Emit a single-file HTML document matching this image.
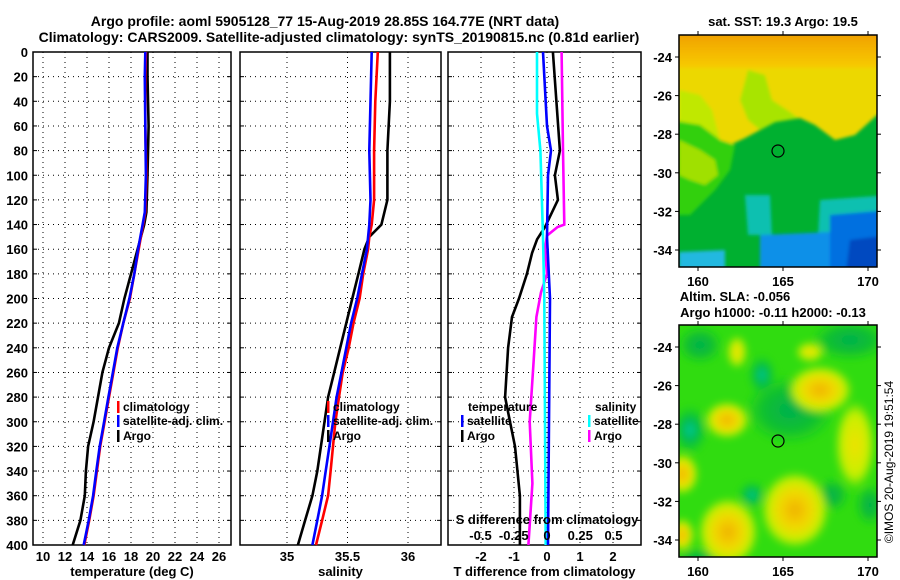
<!DOCTYPE html>
<html><head><meta charset="utf-8">
<style>
html,body{margin:0;padding:0;background:#fff;}
svg{display:block;font-family:"Liberation Sans",Arial,sans-serif;font-weight:bold;}
</style></head>
<body>
<svg id="chart" width="900" height="580" viewBox="0 0 900 580" xmlns="http://www.w3.org/2000/svg">
<defs>
<filter id="blur4" x="-20%" y="-20%" width="140%" height="140%"><feGaussianBlur stdDeviation="4"/></filter>
<filter id="blur2"><feGaussianBlur stdDeviation="1.5"/></filter>
<clipPath id="clipMap1"><rect x="679" y="35" width="198" height="232"/></clipPath>
<clipPath id="clipMap2"><rect x="679" y="325" width="198" height="232"/></clipPath>
<linearGradient id="topBand" x1="0" y1="0" x2="0" y2="1"><stop offset="0" stop-color="#f09a00"/><stop offset="0.5" stop-color="#f4b400"/><stop offset="1" stop-color="#f6cc00"/></linearGradient>
<radialGradient id="gY"><stop offset="0" stop-color="#f0b000"/><stop offset="0.45" stop-color="#f2d800"/><stop offset="0.8" stop-color="#c8f000"/><stop offset="1" stop-color="#c8f000" stop-opacity="0"/></radialGradient>
<radialGradient id="gYl"><stop offset="0" stop-color="#f0e000"/><stop offset="0.7" stop-color="#c8f000"/><stop offset="1" stop-color="#c8f000" stop-opacity="0"/></radialGradient>
<radialGradient id="gG"><stop offset="0" stop-color="#00b050"/><stop offset="0.6" stop-color="#10c030"/><stop offset="1" stop-color="#10c030" stop-opacity="0"/></radialGradient>
<radialGradient id="gT"><stop offset="0" stop-color="#00d0a0"/><stop offset="0.4" stop-color="#00b858"/><stop offset="1" stop-color="#10c030" stop-opacity="0"/></radialGradient>
</defs>

<text x="325" y="26" font-size="14" text-anchor="middle">Argo profile: aoml 5905128_77 15-Aug-2019 28.85S 164.77E (NRT data)</text>
<text x="339" y="42" font-size="14" text-anchor="middle">Climatology: CARS2009. Satellite-adjusted climatology: synTS_20190815.nc (0.81d earlier)</text>

<g id="panels"></g>

<!-- Map 1: SST -->
<g>
<text x="783" y="26" font-size="13" text-anchor="middle">sat. SST: 19.3 Argo: 19.5</text>
<g clip-path="url(#clipMap1)">
<rect x="679" y="35" width="198" height="232" fill="#00b030"/>
<g filter="url(#blur2)">
<polygon fill="#ecd800" points="670,30 890,30 890,115 877,115 855,135 835,140 815,125 800,118 775,122 760,130 745,138 730,145 720,140 700,125 670,120"/>
<rect x="670" y="30" width="220" height="38" fill="url(#topBand)"/>
<polygon fill="#a8e400" points="748,70 765,75 772,100 790,112 798,118 775,122 760,130 748,120 740,100"/>
<polygon fill="#c0e800" points="679,90 700,95 712,110 720,140 700,125 679,122"/>
<polygon fill="#30d010" points="670,120 700,125 720,140 735,145 730,170 715,190 700,205 690,215 670,215"/>
<polygon fill="#a0e000" points="679,140 700,150 715,160 718,175 705,185 690,180 679,175"/>
<polygon fill="#10c0b0" points="745,195 770,195 772,235 748,235"/>
<polygon fill="#10c0b0" points="820,200 890,195 890,240 818,235"/>
<polygon fill="#0890e8" points="760,235 830,232 830,280 760,280"/>
<polygon fill="#0070e0" points="830,215 890,210 890,280 830,280"/>
<polygon fill="#0048c0" points="850,240 890,235 890,280 845,280"/>
<polygon fill="#20b8e0" points="679,252 725,250 725,280 679,280"/>
</g>
</g>
<rect x="679" y="35" width="198" height="232" fill="none" stroke="#000" stroke-width="1.5"/>
<circle cx="778" cy="151" r="6" fill="none" stroke="#000" stroke-width="1.2"/>
<g id="map1axes"></g>
</g>

<!-- Map 2: SLA -->
<g>
<text x="735" y="301" font-size="13" text-anchor="middle">Altim. SLA: -0.056</text>
<text x="773" y="317" font-size="13" text-anchor="middle">Argo h1000: -0.11 h2000: -0.13</text>
<g clip-path="url(#clipMap2)">
<rect x="679" y="325" width="198" height="232" fill="#30dc10"/>
<g filter="url(#blur4)">
<ellipse cx="790" cy="410" rx="45" ry="34" fill="url(#gG)"/>
<ellipse cx="850" cy="340" rx="38" ry="20" fill="url(#gG)"/>
<ellipse cx="700" cy="345" rx="22" ry="18" fill="url(#gG)"/>
<ellipse cx="690" cy="430" rx="18" ry="25" fill="url(#gT)"/>
<ellipse cx="762" cy="375" rx="14" ry="20" fill="url(#gT)"/>
<ellipse cx="752" cy="495" rx="14" ry="14" fill="url(#gT)"/>
<ellipse cx="832" cy="495" rx="16" ry="16" fill="url(#gG)"/>
<ellipse cx="700" cy="560" rx="25" ry="12" fill="url(#gG)"/>
<ellipse cx="870" cy="505" rx="14" ry="20" fill="url(#gG)"/>
<ellipse cx="820" cy="390" rx="32" ry="24" fill="url(#gY)"/>
<ellipse cx="727" cy="420" rx="22" ry="18" fill="url(#gY)"/>
<ellipse cx="682" cy="474" rx="16" ry="20" fill="url(#gY)"/>
<ellipse cx="795" cy="510" rx="34" ry="38" fill="url(#gY)"/>
<ellipse cx="728" cy="532" rx="30" ry="34" fill="url(#gY)"/>
<ellipse cx="682" cy="535" rx="12" ry="16" fill="url(#gY)"/>
<ellipse cx="855" cy="445" rx="20" ry="44" fill="url(#gYl)"/>
<ellipse cx="737" cy="352" rx="10" ry="16" fill="url(#gYl)"/>
<ellipse cx="810" cy="352" rx="14" ry="10" fill="url(#gYl)"/>
</g>
</g>
<rect x="679" y="325" width="198" height="232" fill="none" stroke="#000" stroke-width="1.5"/>
<circle cx="778" cy="441" r="6" fill="none" stroke="#000" stroke-width="1.2"/>
<g id="map2axes"></g>
</g>
<text transform="translate(893,462) rotate(-90)" font-size="12" font-weight="normal" text-anchor="middle">©IMOS 20-Aug-2019 19:51:54</text>
</svg>

<script>
// ---------- data ----------
const depthTicks = [0,20,40,60,80,100,120,140,160,180,200,220,240,260,280,300,320,340,360,380,400];
const tempTicks = [10,12,14,16,18,20,22,24,26];
const salTicks = [35,35.5,36];
const salTickLabels = ["35","35.5","36"];
const tdiffTicks = [-2,-1,0,1,2];
const sdiffTicks = [-0.5,-0.25,0,0.25,0.5];
const sdiffTickLabels = ["-0.5","-0.25","0","0.25","0.5"];

const depthT = [0,20,60,100,130,140,160,180,200,220,240,260,280,300,320,340,360,380,400];
const tempArgo = [19.5,19.5,19.6,19.5,19.4,19.2,18.6,18.0,17.4,16.9,16.0,15.4,15.0,14.6,14.1,13.9,13.8,13.4,12.7];
const tempClim = [19.35,19.3,19.3,19.4,19.3,19.1,18.7,18.3,17.9,17.3,16.8,16.4,16.0,15.6,15.2,14.9,14.6,14.2,13.75];
const tempSat  = [19.3,19.25,19.3,19.35,19.25,19.05,18.65,18.3,17.85,17.3,16.75,16.35,15.95,15.55,15.15,14.85,14.55,14.15,13.7];

const depthS = [0,40,80,120,140,150,160,180,200,220,240,260,280,300,320,340,360,380,400];
const salArgo = [35.85,35.85,35.83,35.83,35.78,35.68,35.64,35.59,35.54,35.49,35.44,35.39,35.34,35.31,35.28,35.25,35.21,35.15,35.09];
const salClim = [35.75,35.73,35.72,35.72,35.70,35.68,35.67,35.63,35.60,35.55,35.51,35.46,35.43,35.40,35.38,35.36,35.34,35.29,35.24];
const salSat  = [35.70,35.69,35.68,35.69,35.68,35.67,35.66,35.62,35.58,35.53,35.49,35.45,35.41,35.38,35.35,35.32,35.29,35.25,35.21];

const depthTdA = [0,80,100,120,142,152,163,180,200,215,240,280,300,320,360,400];
const tdiffArgo = [0.18,0.39,0.24,0.33,-0.06,-0.30,-0.45,-0.61,-0.85,-1.06,-1.18,-1.27,-1.12,-0.97,-0.82,-0.82];
const depthTdS = [0,60,80,100,150,200,400];
const tdiffSat = [-0.12,0,0.12,0.03,0,0.09,0.03];
const depthSdA = [0,80,140,142,149,160,180,195,215,250,300,350,400];
const sdiffArgo = [0.11,0.12,0.13,0.08,0,-0.015,0,-0.045,-0.08,-0.10,-0.13,-0.11,-0.14];
const depthSdS = [0,50,80,150,200,400];
const sdiffSat = [-0.075,-0.075,-0.05,-0.03,-0.02,-0.01];

const mapLonTicks = [160,165,170];
const mapLatTicks = [-24,-26,-28,-30,-32,-34];

// ---------- axes ----------
const Y0=52, Y1=545;
const yD = d => Y0 + d*(Y1-Y0)/400;
const xT = t => 43 + (t-10)*11;
const xS = s => 287 + (s-35)*121;
const xTd = t => 547 + t*33;
const xSd = s => 547 + s*133;
const mapLon = (lon) => 698 + (lon-160)*17;
const mapLat1 = (lat) => 57 + (-24-lat)*19.3;
const mapLat2 = (lat) => 347 + (-24-lat)*19.3;

const NS="http://www.w3.org/2000/svg";
const root=document.getElementById('panels');
function mk(tag,attrs,parent){const e=document.createElementNS(NS,tag);for(const k in attrs)e.setAttribute(k,attrs[k]);(parent||root).appendChild(e);return e;}

function panel(name,x0,x1,xticks,xfn,xlabels,xtitle){
  const g=mk('g',{});
  
  
  depthTicks.forEach(d=>{
    const l=mk('line',{x1:x0,x2:x1,y1:yD(d),y2:yD(d),stroke:'#000','stroke-width':1,'stroke-dasharray':'1,4'},g);
    
    
    mk('line',{x1:x0,x2:x0+4,y1:yD(d),y2:yD(d),stroke:'#000'},g);
    mk('line',{x1:x1-4,x2:x1,y1:yD(d),y2:yD(d),stroke:'#000'},g);
  });
  xticks.forEach((v,i)=>{
    const x=xfn(v);
    const l=mk('line',{x1:x,x2:x,y1:Y0,y2:Y1,stroke:'#000','stroke-width':1,'stroke-dasharray':'1,4'},g);
    
    
    if(xlabels){
      const t=mk('text',{x:x,y:561,'font-size':13,'text-anchor':'middle'},g);
      t.textContent=xlabels[i];
      
      
    }
  });
  const r=mk('rect',{x:x0,y:Y0,width:x1-x0,height:Y1-Y0,fill:'none',stroke:'#000','stroke-width':1.5},g);
  
  
  const tt=mk('text',{x:(x0+x1)/2,y:576,'font-size':13,'text-anchor':'middle'},g);
  tt.textContent=xtitle;
  
  
  return g;
}
function series(g,name,depths,vals,xfn,color){
  const pts=depths.map((d,i)=>xfn(vals[i]).toFixed(1)+','+yD(d).toFixed(1)).join(' ');
  const p=mk('polyline',{points:pts,fill:'none',stroke:color,'stroke-width':2.6,'stroke-linejoin':'miter'},g);
  
  
}
function legendEntry(g,name,x,y,color,label){
  const m=mk('rect',{x:x,y:y-10,width:2.5,height:12,fill:color},g);
  const t=mk('text',{x:x+6,y:y,'font-size':12},g);
  t.textContent=label;
  
  
  
  
}

// depth labels
depthTicks.forEach(d=>{
  const t=mk('text',{x:28,y:yD(d)+5,'font-size':13,'text-anchor':'end'});
  t.textContent=String(d);
  
  
});

// panel 1
const g1=panel('temperature-panel',33,231,tempTicks,xT,tempTicks.map(String),'temperature (deg C)');
series(g1,'temp-argo-line',depthT,tempArgo,xT,'#000');
series(g1,'temp-climatology-line',depthT,tempClim,xT,'#f00');
series(g1,'temp-satellite-line',depthT,tempSat,xT,'#00f');
legendEntry(g1,'legend-climatology',117,411,'#f00','climatology');
legendEntry(g1,'legend-satellite-adj',117,425,'#00f','satellite-adj. clim.');
legendEntry(g1,'legend-argo',117,440,'#000','Argo');

// panel 2
const g2=panel('salinity-panel',240,441,salTicks,xS,salTickLabels,'salinity');
series(g2,'sal-argo-line',depthS,salArgo,xS,'#000');
series(g2,'sal-climatology-line',depthS,salClim,xS,'#f00');
series(g2,'sal-satellite-line',depthS,salSat,xS,'#00f');
legendEntry(g2,'legend-climatology-sal',327,411,'#f00','climatology');
legendEntry(g2,'legend-satellite-adj-sal',327,425,'#00f','satellite-adj. clim.');
legendEntry(g2,'legend-argo-sal',327,440,'#000','Argo');

// panel 3
const g3=panel('difference-panel',448,641,tdiffTicks,xTd,tdiffTicks.map(String),'T difference from climatology');
series(g3,'tdiff-argo-line',depthTdA,tdiffArgo,xTd,'#000');
series(g3,'sdiff-argo-line',depthSdA,sdiffArgo,xSd,'#f0f');
series(g3,'sdiff-satellite-line',depthSdS,sdiffSat,xSd,'#0ff');
series(g3,'tdiff-satellite-line',depthTdS,tdiffSat,xTd,'#00f');
{
  const t=mk('text',{x:468,y:411,'font-size':12},g3);t.textContent='temperature';
  
  
  const s=mk('text',{x:595,y:411,'font-size':12},g3);s.textContent='salinity';
  
  
}
legendEntry(g3,'legend-t-satellite',461,425,'#00f','satellite');
legendEntry(g3,'legend-t-argo',461,440,'#000','Argo');
legendEntry(g3,'legend-s-satellite',588,425,'#0ff','satellite');
legendEntry(g3,'legend-s-argo',588,440,'#f0f','Argo');
{
  const t=mk('text',{x:547,y:524,'font-size':13,'text-anchor':'middle'},g3);t.textContent='S difference from climatology';
  
  
  sdiffTicks.forEach((v,i)=>{
    const l=mk('text',{x:xSd(v),y:540,'font-size':13,'text-anchor':'middle'},g3);l.textContent=sdiffTickLabels[i];
    
    
  });
}

// map axes
function mapAxes(id,top,bottom,latfn){
  const g=document.getElementById(id);
  mapLonTicks.forEach(lon=>{
    const x=mapLon(lon);
    mk('line',{x1:x,x2:x,y1:top-4,y2:top,stroke:'#000'},g);
    mk('line',{x1:x,x2:x,y1:bottom,y2:bottom+4,stroke:'#000'},g);
    const t=mk('text',{x:x,y:bottom+19,'font-size':13,'text-anchor':'middle'},g);
    t.textContent=String(lon);
    
    
  });
  mapLatTicks.forEach(lat=>{
    const y=latfn(lat);
    mk('line',{x1:675,x2:679,y1:y,y2:y,stroke:'#000'},g);
    mk('line',{x1:877,x2:881,y1:y,y2:y,stroke:'#000'},g);
    const t=mk('text',{x:672,y:y+5,'font-size':13,'text-anchor':'end'},g);
    t.textContent=String(lat);
    
    
  });
}
mapAxes('map1axes',35,267,mapLat1);
mapAxes('map2axes',325,557,mapLat2);
</script>
</body></html>
